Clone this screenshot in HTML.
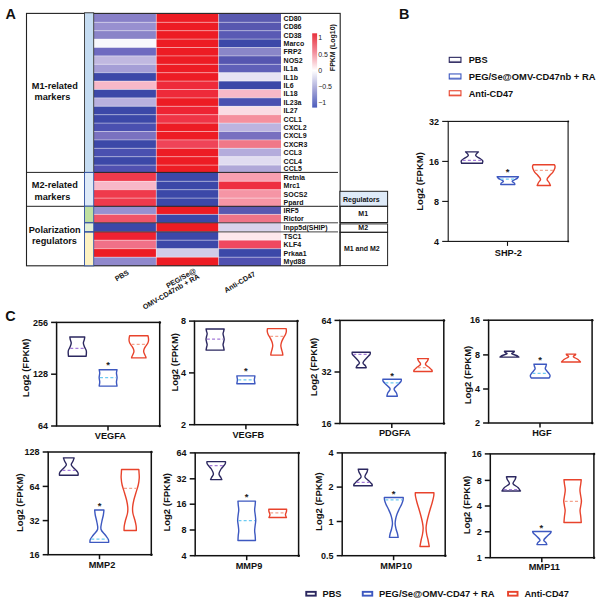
<!DOCTYPE html>
<html><head><meta charset="utf-8"><title>Figure</title>
<style>
html,body{margin:0;padding:0;background:#fff;}
body{width:608px;height:604px;overflow:hidden;}
svg{display:block;font-family:'Liberation Sans', Arial, sans-serif;}
</style></head>
<body>
<svg width="608" height="604" viewBox="0 0 608 604">
<rect x="0" y="0" width="608" height="604" fill="#ffffff"/>
<rect x="94" y="13.9" width="62.3" height="8.42" fill="#8880c8" stroke="none" stroke-width="1"/>
<rect x="156.3" y="13.9" width="62.3" height="8.42" fill="#ed1c24" stroke="none" stroke-width="1"/>
<rect x="218.6" y="13.9" width="62.4" height="8.42" fill="#5a5ab0" stroke="none" stroke-width="1"/>
<rect x="94" y="22.3" width="62.3" height="8.42" fill="#9890d0" stroke="none" stroke-width="1"/>
<rect x="156.3" y="22.3" width="62.3" height="8.42" fill="#ed1c24" stroke="none" stroke-width="1"/>
<rect x="218.6" y="22.3" width="62.4" height="8.42" fill="#5858b0" stroke="none" stroke-width="1"/>
<rect x="94" y="30.7" width="62.3" height="8.42" fill="#8a84c8" stroke="none" stroke-width="1"/>
<rect x="156.3" y="30.7" width="62.3" height="8.42" fill="#ed1c24" stroke="none" stroke-width="1"/>
<rect x="218.6" y="30.7" width="62.4" height="8.42" fill="#5a5ab4" stroke="none" stroke-width="1"/>
<rect x="94" y="39.1" width="62.3" height="8.42" fill="#f8f8fc" stroke="none" stroke-width="1"/>
<rect x="156.3" y="39.1" width="62.3" height="8.42" fill="#ed1c24" stroke="none" stroke-width="1"/>
<rect x="218.6" y="39.1" width="62.4" height="8.42" fill="#3c48a8" stroke="none" stroke-width="1"/>
<rect x="94" y="47.5" width="62.3" height="8.42" fill="#6e6ac0" stroke="none" stroke-width="1"/>
<rect x="156.3" y="47.5" width="62.3" height="8.42" fill="#ed1c24" stroke="none" stroke-width="1"/>
<rect x="218.6" y="47.5" width="62.4" height="8.42" fill="#8a86c8" stroke="none" stroke-width="1"/>
<rect x="94" y="55.9" width="62.3" height="8.42" fill="#c0b8e0" stroke="none" stroke-width="1"/>
<rect x="156.3" y="55.9" width="62.3" height="8.42" fill="#ed1c24" stroke="none" stroke-width="1"/>
<rect x="218.6" y="55.9" width="62.4" height="8.42" fill="#5656b0" stroke="none" stroke-width="1"/>
<rect x="94" y="64.3" width="62.3" height="8.42" fill="#a59ed6" stroke="none" stroke-width="1"/>
<rect x="156.3" y="64.3" width="62.3" height="8.42" fill="#ed1c24" stroke="none" stroke-width="1"/>
<rect x="218.6" y="64.3" width="62.4" height="8.42" fill="#6060b8" stroke="none" stroke-width="1"/>
<rect x="94" y="72.7" width="62.3" height="8.42" fill="#3c48a8" stroke="none" stroke-width="1"/>
<rect x="156.3" y="72.7" width="62.3" height="8.42" fill="#ed1c24" stroke="none" stroke-width="1"/>
<rect x="218.6" y="72.7" width="62.4" height="8.42" fill="#e8e4f4" stroke="none" stroke-width="1"/>
<rect x="94" y="81.1" width="62.3" height="8.42" fill="#f8b8c8" stroke="none" stroke-width="1"/>
<rect x="156.3" y="81.1" width="62.3" height="8.42" fill="#ee2a3a" stroke="none" stroke-width="1"/>
<rect x="218.6" y="81.1" width="62.4" height="8.42" fill="#3c48a8" stroke="none" stroke-width="1"/>
<rect x="94" y="89.5" width="62.3" height="8.42" fill="#3c48a8" stroke="none" stroke-width="1"/>
<rect x="156.3" y="89.5" width="62.3" height="8.42" fill="#ee2a3a" stroke="none" stroke-width="1"/>
<rect x="218.6" y="89.5" width="62.4" height="8.42" fill="#f8b8c8" stroke="none" stroke-width="1"/>
<rect x="94" y="97.9" width="62.3" height="8.42" fill="#b8b0de" stroke="none" stroke-width="1"/>
<rect x="156.3" y="97.9" width="62.3" height="8.42" fill="#ed1c24" stroke="none" stroke-width="1"/>
<rect x="218.6" y="97.9" width="62.4" height="8.42" fill="#4a50b0" stroke="none" stroke-width="1"/>
<rect x="94" y="106.3" width="62.3" height="8.42" fill="#3c48a8" stroke="none" stroke-width="1"/>
<rect x="156.3" y="106.3" width="62.3" height="8.42" fill="#ee2434" stroke="none" stroke-width="1"/>
<rect x="218.6" y="106.3" width="62.4" height="8.42" fill="#fadce4" stroke="none" stroke-width="1"/>
<rect x="94" y="114.7" width="62.3" height="8.42" fill="#3c48a8" stroke="none" stroke-width="1"/>
<rect x="156.3" y="114.7" width="62.3" height="8.42" fill="#ef3446" stroke="none" stroke-width="1"/>
<rect x="218.6" y="114.7" width="62.4" height="8.42" fill="#f5909e" stroke="none" stroke-width="1"/>
<rect x="94" y="123.1" width="62.3" height="8.42" fill="#4a50b0" stroke="none" stroke-width="1"/>
<rect x="156.3" y="123.1" width="62.3" height="8.42" fill="#ed1c24" stroke="none" stroke-width="1"/>
<rect x="218.6" y="123.1" width="62.4" height="8.42" fill="#bcb4e0" stroke="none" stroke-width="1"/>
<rect x="94" y="131.5" width="62.3" height="8.42" fill="#7a72c0" stroke="none" stroke-width="1"/>
<rect x="156.3" y="131.5" width="62.3" height="8.42" fill="#ed1c24" stroke="none" stroke-width="1"/>
<rect x="218.6" y="131.5" width="62.4" height="8.42" fill="#7870c0" stroke="none" stroke-width="1"/>
<rect x="94" y="139.9" width="62.3" height="8.42" fill="#3c48a8" stroke="none" stroke-width="1"/>
<rect x="156.3" y="139.9" width="62.3" height="8.42" fill="#ef4458" stroke="none" stroke-width="1"/>
<rect x="218.6" y="139.9" width="62.4" height="8.42" fill="#f07888" stroke="none" stroke-width="1"/>
<rect x="94" y="148.3" width="62.3" height="8.42" fill="#4a50b0" stroke="none" stroke-width="1"/>
<rect x="156.3" y="148.3" width="62.3" height="8.42" fill="#ed1c24" stroke="none" stroke-width="1"/>
<rect x="218.6" y="148.3" width="62.4" height="8.42" fill="#b4acdc" stroke="none" stroke-width="1"/>
<rect x="94" y="156.7" width="62.3" height="8.42" fill="#3c48a8" stroke="none" stroke-width="1"/>
<rect x="156.3" y="156.7" width="62.3" height="8.42" fill="#ed1c24" stroke="none" stroke-width="1"/>
<rect x="218.6" y="156.7" width="62.4" height="8.42" fill="#e0dcf0" stroke="none" stroke-width="1"/>
<rect x="94" y="165.1" width="62.3" height="7.32" fill="#5050b0" stroke="none" stroke-width="1"/>
<rect x="156.3" y="165.1" width="62.3" height="7.32" fill="#ed1c24" stroke="none" stroke-width="1"/>
<rect x="218.6" y="165.1" width="62.4" height="7.32" fill="#b0a8d8" stroke="none" stroke-width="1"/>
<rect x="94" y="172.4" width="62.3" height="8.92" fill="#ef3a4c" stroke="none" stroke-width="1"/>
<rect x="156.3" y="172.4" width="62.3" height="8.92" fill="#3c48a8" stroke="none" stroke-width="1"/>
<rect x="218.6" y="172.4" width="62.4" height="8.92" fill="#f8a0b0" stroke="none" stroke-width="1"/>
<rect x="94" y="181.3" width="62.3" height="8.42" fill="#f8b8c8" stroke="none" stroke-width="1"/>
<rect x="156.3" y="181.3" width="62.3" height="8.42" fill="#3c48a8" stroke="none" stroke-width="1"/>
<rect x="218.6" y="181.3" width="62.4" height="8.42" fill="#ee3040" stroke="none" stroke-width="1"/>
<rect x="94" y="189.7" width="62.3" height="8.42" fill="#ef3a4c" stroke="none" stroke-width="1"/>
<rect x="156.3" y="189.7" width="62.3" height="8.42" fill="#3c48a8" stroke="none" stroke-width="1"/>
<rect x="218.6" y="189.7" width="62.4" height="8.42" fill="#f595a5" stroke="none" stroke-width="1"/>
<rect x="94" y="198.1" width="62.3" height="8.12" fill="#ef3a4c" stroke="none" stroke-width="1"/>
<rect x="156.3" y="198.1" width="62.3" height="8.12" fill="#3c48a8" stroke="none" stroke-width="1"/>
<rect x="218.6" y="198.1" width="62.4" height="8.12" fill="#f595a5" stroke="none" stroke-width="1"/>
<rect x="94" y="206.2" width="62.3" height="8.22" fill="#9890d0" stroke="none" stroke-width="1"/>
<rect x="156.3" y="206.2" width="62.3" height="8.22" fill="#ed1c24" stroke="none" stroke-width="1"/>
<rect x="218.6" y="206.2" width="62.4" height="8.22" fill="#5a58b0" stroke="none" stroke-width="1"/>
<rect x="94" y="214.4" width="62.3" height="8.52" fill="#f05468" stroke="none" stroke-width="1"/>
<rect x="156.3" y="214.4" width="62.3" height="8.52" fill="#3c48a8" stroke="none" stroke-width="1"/>
<rect x="218.6" y="214.4" width="62.4" height="8.52" fill="#f07488" stroke="none" stroke-width="1"/>
<rect x="94" y="222.9" width="62.3" height="8.82" fill="#3c48a8" stroke="none" stroke-width="1"/>
<rect x="156.3" y="222.9" width="62.3" height="8.82" fill="#ed1c24" stroke="none" stroke-width="1"/>
<rect x="218.6" y="222.9" width="62.4" height="8.82" fill="#d8d4ec" stroke="none" stroke-width="1"/>
<rect x="94" y="231.7" width="62.3" height="8.52" fill="#ee2232" stroke="none" stroke-width="1"/>
<rect x="156.3" y="231.7" width="62.3" height="8.52" fill="#3c48a8" stroke="none" stroke-width="1"/>
<rect x="218.6" y="231.7" width="62.4" height="8.52" fill="#fde8ec" stroke="none" stroke-width="1"/>
<rect x="94" y="240.2" width="62.3" height="8.52" fill="#f07088" stroke="none" stroke-width="1"/>
<rect x="156.3" y="240.2" width="62.3" height="8.52" fill="#3c48a8" stroke="none" stroke-width="1"/>
<rect x="218.6" y="240.2" width="62.4" height="8.52" fill="#f04860" stroke="none" stroke-width="1"/>
<rect x="94" y="248.7" width="62.3" height="8.52" fill="#ed1c24" stroke="none" stroke-width="1"/>
<rect x="156.3" y="248.7" width="62.3" height="8.52" fill="#d0cce8" stroke="none" stroke-width="1"/>
<rect x="218.6" y="248.7" width="62.4" height="8.52" fill="#3c48a8" stroke="none" stroke-width="1"/>
<rect x="94" y="257.2" width="62.3" height="8.62" fill="#9088cc" stroke="none" stroke-width="1"/>
<rect x="156.3" y="257.2" width="62.3" height="8.62" fill="#ed1c24" stroke="none" stroke-width="1"/>
<rect x="218.6" y="257.2" width="62.4" height="8.62" fill="#5050b0" stroke="none" stroke-width="1"/>
<line x1="94" y1="22.3" x2="281" y2="22.3" stroke="#ffffff" stroke-width="0.7" stroke-opacity="0.6"/>
<line x1="94" y1="30.7" x2="281" y2="30.7" stroke="#ffffff" stroke-width="0.7" stroke-opacity="0.6"/>
<line x1="94" y1="39.1" x2="281" y2="39.1" stroke="#ffffff" stroke-width="0.7" stroke-opacity="0.6"/>
<line x1="94" y1="47.5" x2="281" y2="47.5" stroke="#ffffff" stroke-width="0.7" stroke-opacity="0.6"/>
<line x1="94" y1="55.9" x2="281" y2="55.9" stroke="#ffffff" stroke-width="0.7" stroke-opacity="0.6"/>
<line x1="94" y1="64.3" x2="281" y2="64.3" stroke="#ffffff" stroke-width="0.7" stroke-opacity="0.6"/>
<line x1="94" y1="72.7" x2="281" y2="72.7" stroke="#ffffff" stroke-width="0.7" stroke-opacity="0.6"/>
<line x1="94" y1="81.1" x2="281" y2="81.1" stroke="#ffffff" stroke-width="0.7" stroke-opacity="0.6"/>
<line x1="94" y1="89.5" x2="281" y2="89.5" stroke="#ffffff" stroke-width="0.7" stroke-opacity="0.6"/>
<line x1="94" y1="97.9" x2="281" y2="97.9" stroke="#ffffff" stroke-width="0.7" stroke-opacity="0.6"/>
<line x1="94" y1="106.3" x2="281" y2="106.3" stroke="#ffffff" stroke-width="0.7" stroke-opacity="0.6"/>
<line x1="94" y1="114.7" x2="281" y2="114.7" stroke="#ffffff" stroke-width="0.7" stroke-opacity="0.6"/>
<line x1="94" y1="123.1" x2="281" y2="123.1" stroke="#ffffff" stroke-width="0.7" stroke-opacity="0.6"/>
<line x1="94" y1="131.5" x2="281" y2="131.5" stroke="#ffffff" stroke-width="0.7" stroke-opacity="0.6"/>
<line x1="94" y1="139.9" x2="281" y2="139.9" stroke="#ffffff" stroke-width="0.7" stroke-opacity="0.6"/>
<line x1="94" y1="148.3" x2="281" y2="148.3" stroke="#ffffff" stroke-width="0.7" stroke-opacity="0.6"/>
<line x1="94" y1="156.7" x2="281" y2="156.7" stroke="#ffffff" stroke-width="0.7" stroke-opacity="0.6"/>
<line x1="94" y1="165.1" x2="281" y2="165.1" stroke="#ffffff" stroke-width="0.7" stroke-opacity="0.6"/>
<line x1="94" y1="181.3" x2="281" y2="181.3" stroke="#ffffff" stroke-width="0.7" stroke-opacity="0.6"/>
<line x1="94" y1="189.7" x2="281" y2="189.7" stroke="#ffffff" stroke-width="0.7" stroke-opacity="0.6"/>
<line x1="94" y1="198.1" x2="281" y2="198.1" stroke="#ffffff" stroke-width="0.7" stroke-opacity="0.6"/>
<line x1="94" y1="214.4" x2="281" y2="214.4" stroke="#ffffff" stroke-width="0.7" stroke-opacity="0.6"/>
<line x1="94" y1="240.2" x2="281" y2="240.2" stroke="#ffffff" stroke-width="0.7" stroke-opacity="0.6"/>
<line x1="94" y1="248.7" x2="281" y2="248.7" stroke="#ffffff" stroke-width="0.7" stroke-opacity="0.6"/>
<line x1="94" y1="257.2" x2="281" y2="257.2" stroke="#ffffff" stroke-width="0.7" stroke-opacity="0.6"/>
<line x1="156.3" y1="13.9" x2="156.3" y2="265.8" stroke="#ffffff" stroke-width="0.7" stroke-opacity="0.6"/>
<line x1="218.6" y1="13.9" x2="218.6" y2="265.8" stroke="#ffffff" stroke-width="0.7" stroke-opacity="0.6"/>
<rect x="26.5" y="13.4" width="313.7" height="252.4" fill="none" stroke="#222" stroke-width="1.1"/>
<line x1="26.5" y1="172.4" x2="338" y2="172.4" stroke="#222" stroke-width="1"/>
<line x1="26.5" y1="206.3" x2="338" y2="206.3" stroke="#222" stroke-width="1"/>
<line x1="94" y1="222.8" x2="338" y2="222.8" stroke="#444" stroke-width="1"/>
<line x1="94" y1="231.9" x2="338" y2="231.9" stroke="#444" stroke-width="1"/>
<rect x="84.5" y="12.8" width="9.2" height="159.6" fill="#c5dcf2" stroke="#333333" stroke-width="0.9"/>
<rect x="84.5" y="172.4" width="9.2" height="33.8" fill="#deeaf8" stroke="#2f4f9f" stroke-width="0.9"/>
<rect x="84.5" y="206.2" width="9.2" height="16.2" fill="#bfe0a0" stroke="#2f4f9f" stroke-width="0.9"/>
<rect x="84.5" y="222.9" width="9.2" height="8.7" fill="#e2f0d6" stroke="#2f4f9f" stroke-width="0.9"/>
<rect x="84.5" y="232.2" width="9.2" height="33.6" fill="#fdf2c2" stroke="#2f4f9f" stroke-width="0.9"/>
<text x="54.8" y="88.7" font-size="9.2" font-weight="bold" text-anchor="middle" fill="#111">M1-related</text>
<text x="52.4" y="99.5" font-size="9.2" font-weight="bold" text-anchor="middle" fill="#111">markers</text>
<text x="54.8" y="187.9" font-size="9.2" font-weight="bold" text-anchor="middle" fill="#111">M2-related</text>
<text x="52.4" y="199.5" font-size="9.2" font-weight="bold" text-anchor="middle" fill="#111">markers</text>
<text x="54.7" y="232.9" font-size="9.2" font-weight="bold" text-anchor="middle" fill="#111">Polarization</text>
<text x="54.5" y="243.7" font-size="9.2" font-weight="bold" text-anchor="middle" fill="#111">regulators</text>
<text x="283.6" y="20.8" font-size="7" font-weight="bold" text-anchor="start" fill="#111">CD80</text>
<text x="283.6" y="29.2" font-size="7" font-weight="bold" text-anchor="start" fill="#111">CD86</text>
<text x="283.6" y="37.6" font-size="7" font-weight="bold" text-anchor="start" fill="#111">CD38</text>
<text x="283.6" y="46" font-size="7" font-weight="bold" text-anchor="start" fill="#111">Marco</text>
<text x="283.6" y="54.4" font-size="7" font-weight="bold" text-anchor="start" fill="#111">FRP2</text>
<text x="283.6" y="62.8" font-size="7" font-weight="bold" text-anchor="start" fill="#111">NOS2</text>
<text x="283.6" y="71.2" font-size="7" font-weight="bold" text-anchor="start" fill="#111">IL1a</text>
<text x="283.6" y="79.6" font-size="7" font-weight="bold" text-anchor="start" fill="#111">IL1b</text>
<text x="283.6" y="88" font-size="7" font-weight="bold" text-anchor="start" fill="#111">IL6</text>
<text x="283.6" y="96.4" font-size="7" font-weight="bold" text-anchor="start" fill="#111">IL18</text>
<text x="283.6" y="104.8" font-size="7" font-weight="bold" text-anchor="start" fill="#111">IL23a</text>
<text x="283.6" y="113.2" font-size="7" font-weight="bold" text-anchor="start" fill="#111">IL27</text>
<text x="283.6" y="121.6" font-size="7" font-weight="bold" text-anchor="start" fill="#111">CCL1</text>
<text x="283.6" y="130" font-size="7" font-weight="bold" text-anchor="start" fill="#111">CXCL2</text>
<text x="283.6" y="138.4" font-size="7" font-weight="bold" text-anchor="start" fill="#111">CXCL9</text>
<text x="283.6" y="146.8" font-size="7" font-weight="bold" text-anchor="start" fill="#111">CXCR3</text>
<text x="283.6" y="155.2" font-size="7" font-weight="bold" text-anchor="start" fill="#111">CCL3</text>
<text x="283.6" y="163.6" font-size="7" font-weight="bold" text-anchor="start" fill="#111">CCL4</text>
<text x="283.6" y="171.45" font-size="7" font-weight="bold" text-anchor="start" fill="#111">CCL5</text>
<text x="283.6" y="179.55" font-size="7" font-weight="bold" text-anchor="start" fill="#111">Retnla</text>
<text x="283.6" y="188.2" font-size="7" font-weight="bold" text-anchor="start" fill="#111">Mrc1</text>
<text x="283.6" y="196.6" font-size="7" font-weight="bold" text-anchor="start" fill="#111">SOCS2</text>
<text x="283.6" y="204.85" font-size="7" font-weight="bold" text-anchor="start" fill="#111">Ppard</text>
<text x="283.6" y="213" font-size="7" font-weight="bold" text-anchor="start" fill="#111">IRF5</text>
<text x="283.6" y="221.35" font-size="7" font-weight="bold" text-anchor="start" fill="#111">Rictor</text>
<text x="283.6" y="230" font-size="7" font-weight="bold" text-anchor="start" fill="#111">Inpp5d(SHIP)</text>
<text x="283.6" y="238.65" font-size="7" font-weight="bold" text-anchor="start" fill="#111">TSC1</text>
<text x="283.6" y="247.15" font-size="7" font-weight="bold" text-anchor="start" fill="#111">KLF4</text>
<text x="283.6" y="255.65" font-size="7" font-weight="bold" text-anchor="start" fill="#111">Prkaa1</text>
<text x="283.6" y="264.2" font-size="7" font-weight="bold" text-anchor="start" fill="#111">Myd88</text>
<defs><linearGradient id="cb" x1="0" y1="0" x2="0" y2="1"><stop offset="0" stop-color="#e8303c"/><stop offset="0.25" stop-color="#f28c9a"/><stop offset="0.5" stop-color="#ffffff"/><stop offset="0.75" stop-color="#a8a8d8"/><stop offset="1" stop-color="#4c5cbc"/></linearGradient></defs>
<rect x="312.2" y="33.3" width="4.9" height="74.3" fill="url(#cb)" stroke="none" stroke-width="1"/>
<text x="318.2" y="40.3" font-size="7" font-weight="normal" text-anchor="start" fill="#1a1a1a">1</text>
<text x="318.2" y="56.5" font-size="7" font-weight="normal" text-anchor="start" fill="#1a1a1a">0.5</text>
<text x="318.2" y="72.7" font-size="7" font-weight="normal" text-anchor="start" fill="#1a1a1a">0</text>
<text x="318.2" y="88.8" font-size="7" font-weight="normal" text-anchor="start" fill="#1a1a1a">−0.5</text>
<text x="318.2" y="104.9" font-size="7" font-weight="normal" text-anchor="start" fill="#1a1a1a">−1</text>
<text x="335.3" y="47.6" font-size="7" font-weight="bold" text-anchor="middle" fill="#111" transform="rotate(-90 335.3 47.6)">FPKM (Log10)</text>
<text x="129.5" y="274" font-size="7.2" font-weight="bold" text-anchor="end" fill="#111" transform="rotate(-30 129.5 274)">PBS</text>
<text x="196.5" y="272" font-size="7.2" font-weight="bold" text-anchor="end" fill="#111" transform="rotate(-30 196.5 272)">PEG/Se@</text>
<text x="200" y="277.8" font-size="7.2" font-weight="bold" text-anchor="end" fill="#111" transform="rotate(-30 200 277.8)">OMV-CD47nb + RA</text>
<text x="256" y="275.5" font-size="7.2" font-weight="bold" text-anchor="end" fill="#111" transform="rotate(-30 256 275.5)">Anti-CD47</text>
<rect x="339.9" y="191.3" width="47.7" height="15" fill="#deeaf8" stroke="#222" stroke-width="1"/>
<rect x="339.9" y="206.3" width="47.7" height="16.2" fill="none" stroke="#222" stroke-width="1"/>
<rect x="339.9" y="223.9" width="47.7" height="8.4" fill="none" stroke="#222" stroke-width="1"/>
<rect x="339.9" y="232.3" width="47.7" height="33.3" fill="none" stroke="#222" stroke-width="1"/>
<text x="361.3" y="201.6" font-size="7" font-weight="bold" text-anchor="middle" fill="#111">Regulators</text>
<text x="363.2" y="216" font-size="7" font-weight="bold" text-anchor="middle" fill="#111">M1</text>
<text x="363.2" y="229.6" font-size="7" font-weight="bold" text-anchor="middle" fill="#111">M2</text>
<text x="361.8" y="250.8" font-size="7" font-weight="bold" text-anchor="middle" fill="#111">M1 and M2</text>
<text x="5.4" y="18.6" font-size="14.4" font-weight="bold" text-anchor="start" fill="#111">A</text>
<text x="399" y="18.5" font-size="14.4" font-weight="bold" text-anchor="start" fill="#111">B</text>
<text x="5.2" y="321.2" font-size="14.4" font-weight="bold" text-anchor="start" fill="#111">C</text>
<rect x="448.2" y="121.4" width="119.9" height="120" fill="none" stroke="#111" stroke-width="1.1"/>
<circle cx="568.25" cy="121.4" r="0.94" fill="#111"/>
<circle cx="568.25" cy="241.4" r="0.94" fill="#111"/>
<line x1="442.2" y1="121.4" x2="448.2" y2="121.4" stroke="#111" stroke-width="1.1"/>
<text x="439" y="124.65" font-size="9" font-weight="bold" text-anchor="end" fill="#111">32</text>
<line x1="442.2" y1="161.4" x2="448.2" y2="161.4" stroke="#111" stroke-width="1.1"/>
<text x="439" y="164.65" font-size="9" font-weight="bold" text-anchor="end" fill="#111">16</text>
<line x1="442.2" y1="201.4" x2="448.2" y2="201.4" stroke="#111" stroke-width="1.1"/>
<text x="439" y="204.65" font-size="9" font-weight="bold" text-anchor="end" fill="#111">8</text>
<line x1="442.2" y1="241.4" x2="448.2" y2="241.4" stroke="#111" stroke-width="1.1"/>
<text x="439" y="244.65" font-size="9" font-weight="bold" text-anchor="end" fill="#111">4</text>
<line x1="507.5" y1="241.4" x2="507.5" y2="245.9" stroke="#111" stroke-width="1.1"/>
<text x="508.4" y="256.4" font-size="9.2" font-weight="bold" text-anchor="middle" fill="#111">SHP-2</text>
<text x="422.7" y="181.4" font-size="9.5" font-weight="bold" text-anchor="middle" fill="#111" transform="rotate(-90 422.7 181.4)">Log2 (FPKM)</text>
<path d="M465.55 151.9 L478.45 151.9 C477.98 152.48 475.4 154.3 475.65 155.4 C475.9 156.5 478.77 157.6 479.95 158.5 C481.13 159.4 482.35 160 482.75 160.8 C483.15 161.6 482.42 162.88 482.35 163.3 L461.65 163.3 C461.58 162.88 460.85 161.6 461.25 160.8 C461.65 160 462.87 159.4 464.05 158.5 C465.23 157.6 468.1 156.5 468.35 155.4 C468.6 154.3 466.02 152.48 465.55 151.9 Z" fill="none" stroke="#2b275f" stroke-width="1.4" stroke-linejoin="round"/>
<line x1="462.66" y1="160.3" x2="481.34" y2="160.3" stroke="#a47ad8" stroke-width="1.25" stroke-dasharray="3 2.2"/>
<path d="M497.15 176.8 L518.45 176.8 C518.25 177.05 518.28 177.6 517.25 178.3 C516.22 179 512.72 180.18 512.25 181 C511.78 181.82 514.02 182.62 514.45 183.2 C514.88 183.78 514.78 184.28 514.85 184.5 L500.75 184.5 C500.82 184.28 500.72 183.78 501.15 183.2 C501.58 182.62 503.82 181.82 503.35 181 C502.88 180.18 499.38 179 498.35 178.3 C497.32 177.6 497.35 177.05 497.15 176.8 Z" fill="none" stroke="#3d58c0" stroke-width="1.4" stroke-linejoin="round"/>
<line x1="500.63" y1="179.1" x2="514.97" y2="179.1" stroke="#6ccbf2" stroke-width="1.25" stroke-dasharray="3 2.2"/>
<text x="507.5" y="175.3" font-size="9.5" font-weight="bold" text-anchor="middle" fill="#222">*</text>
<path d="M533.15 164.8 L554.45 164.8 C554.55 165.05 555 165.68 555.05 166.3 C555.1 166.92 555.13 167.5 554.75 168.5 C554.37 169.5 553.58 171.13 552.75 172.3 C551.92 173.47 550.7 174.35 549.75 175.5 C548.8 176.65 547.17 178.03 547.05 179.2 C546.93 180.37 548.48 181.45 549.05 182.5 C549.62 183.55 550.22 185 550.45 185.5 L537.15 185.5 C537.38 185 537.98 183.55 538.55 182.5 C539.12 181.45 540.67 180.37 540.55 179.2 C540.43 178.03 538.8 176.65 537.85 175.5 C536.9 174.35 535.68 173.47 534.85 172.3 C534.02 171.13 533.23 169.5 532.85 168.5 C532.47 167.5 532.5 166.92 532.55 166.3 C532.6 165.68 533.05 165.05 533.15 164.8 Z" fill="none" stroke="#e8432c" stroke-width="1.4" stroke-linejoin="round"/>
<line x1="534.65" y1="170.4" x2="552.95" y2="170.4" stroke="#f4a48e" stroke-width="1.25" stroke-dasharray="3 2.2"/>
<rect x="449.25" y="57.35" width="11.7" height="5" fill="none" stroke="#2b275f" stroke-width="1.1"/>
<line x1="449.2" y1="61.7" x2="461" y2="61.7" stroke="#2b275f" stroke-width="1.6" stroke-opacity="0.55"/>
<text x="468.7" y="63.2" font-size="9.2" font-weight="bold" text-anchor="start" fill="#111">PBS</text>
<rect x="449.25" y="73.95" width="11.7" height="5" fill="none" stroke="#3d58c0" stroke-width="1.1"/>
<line x1="449.2" y1="78.3" x2="461" y2="78.3" stroke="#3d58c0" stroke-width="1.6" stroke-opacity="0.55"/>
<text x="468.7" y="79.8" font-size="9.2" font-weight="bold" text-anchor="start" fill="#111" textLength="126.8" lengthAdjust="spacingAndGlyphs">PEG/Se@OMV-CD47nb + RA</text>
<rect x="449.25" y="90.75" width="11.7" height="5" fill="none" stroke="#e8432c" stroke-width="1.1"/>
<line x1="449.2" y1="95.1" x2="461" y2="95.1" stroke="#e8432c" stroke-width="1.6" stroke-opacity="0.55"/>
<text x="468.7" y="96.6" font-size="9.2" font-weight="bold" text-anchor="start" fill="#111">Anti-CD47</text>
<rect x="56.6" y="322.4" width="103.1" height="103.6" fill="none" stroke="#111" stroke-width="1.5"/>
<circle cx="159.85" cy="322.4" r="1.27" fill="#111"/>
<circle cx="159.85" cy="426" r="1.27" fill="#111"/>
<line x1="51.1" y1="322.4" x2="56.6" y2="322.4" stroke="#111" stroke-width="1.5"/>
<text x="48" y="325.65" font-size="9" font-weight="bold" text-anchor="end" fill="#111">256</text>
<line x1="51.1" y1="374.2" x2="56.6" y2="374.2" stroke="#111" stroke-width="1.5"/>
<text x="48" y="377.45" font-size="9" font-weight="bold" text-anchor="end" fill="#111">128</text>
<line x1="51.1" y1="426" x2="56.6" y2="426" stroke="#111" stroke-width="1.5"/>
<text x="48" y="429.25" font-size="9" font-weight="bold" text-anchor="end" fill="#111">64</text>
<line x1="108" y1="426" x2="108" y2="430.5" stroke="#111" stroke-width="1.5"/>
<text x="110.4" y="438.5" font-size="9.2" font-weight="bold" text-anchor="middle" fill="#111">VEGFA</text>
<text x="29.1" y="367.85" font-size="9.5" font-weight="bold" text-anchor="middle" fill="#111" transform="rotate(-90 29.1 367.85)">Log2 (FPKM)</text>
<path d="M69.85 337 L84.75 337 C84.68 337.42 84.58 338.5 84.35 339.5 C84.12 340.5 83.32 341.75 83.35 343 C83.38 344.25 84.05 345.67 84.55 347 C85.05 348.33 86.08 349.45 86.35 351 C86.62 352.55 86.18 355.42 86.15 356.3 L68.45 356.3 C68.42 355.42 67.98 352.55 68.25 351 C68.52 349.45 69.55 348.33 70.05 347 C70.55 345.67 71.22 344.25 71.25 343 C71.28 341.75 70.48 340.5 70.25 339.5 C70.02 338.5 69.92 337.42 69.85 337 Z" fill="none" stroke="#2b275f" stroke-width="1.4" stroke-linejoin="round"/>
<line x1="70.22" y1="348.4" x2="84.38" y2="348.4" stroke="#a47ad8" stroke-width="1.25" stroke-dasharray="3 2.2"/>
<path d="M99.15 369.7 L117.05 369.7 C116.95 370.25 116.45 371.7 116.45 373 C116.45 374.3 117.05 376 117.05 377.5 C117.05 379 116.45 380.57 116.45 382 C116.45 383.43 116.95 385.42 117.05 386.1 L99.15 386.1 C99.25 385.42 99.75 383.43 99.75 382 C99.75 380.57 99.15 379 99.15 377.5 C99.15 376 99.75 374.3 99.75 373 C99.75 371.7 99.25 370.25 99.15 369.7 Z" fill="none" stroke="#3d58c0" stroke-width="1.4" stroke-linejoin="round"/>
<line x1="99.95" y1="377.5" x2="116.25" y2="377.5" stroke="#6ccbf2" stroke-width="1.25" stroke-dasharray="3 2.2"/>
<text x="108.2" y="367.7" font-size="9.5" font-weight="bold" text-anchor="middle" fill="#222">*</text>
<path d="M129.65 335.7 L147.95 335.7 C148.02 336 148.25 336.75 148.35 337.5 C148.45 338.25 148.63 339.28 148.55 340.2 C148.47 341.12 148.3 342.03 147.85 343 C147.4 343.97 146.47 345 145.85 346 C145.23 347 144.52 348.08 144.15 349 C143.78 349.92 143.6 350.67 143.65 351.5 C143.7 352.33 144.12 353.17 144.45 354 C144.78 354.83 145.38 355.85 145.65 356.5 C145.92 357.15 145.98 357.67 146.05 357.9 L131.55 357.9 C131.62 357.67 131.68 357.15 131.95 356.5 C132.22 355.85 132.82 354.83 133.15 354 C133.48 353.17 133.9 352.33 133.95 351.5 C134 350.67 133.82 349.92 133.45 349 C133.08 348.08 132.37 347 131.75 346 C131.13 345 130.2 343.97 129.75 343 C129.3 342.03 129.13 341.12 129.05 340.2 C128.97 339.28 129.15 338.25 129.25 337.5 C129.35 336.75 129.58 336 129.65 335.7 Z" fill="none" stroke="#e8432c" stroke-width="1.4" stroke-linejoin="round"/>
<line x1="131.48" y1="344.4" x2="146.12" y2="344.4" stroke="#f4a48e" stroke-width="1.25" stroke-dasharray="3 2.2"/>
<rect x="194.5" y="321.1" width="102.9" height="103.6" fill="none" stroke="#111" stroke-width="1.5"/>
<circle cx="297.55" cy="321.1" r="1.27" fill="#111"/>
<circle cx="297.55" cy="424.7" r="1.27" fill="#111"/>
<line x1="189" y1="321.1" x2="194.5" y2="321.1" stroke="#111" stroke-width="1.5"/>
<text x="185.9" y="324.35" font-size="9" font-weight="bold" text-anchor="end" fill="#111">8</text>
<line x1="189" y1="372.9" x2="194.5" y2="372.9" stroke="#111" stroke-width="1.5"/>
<text x="185.9" y="376.15" font-size="9" font-weight="bold" text-anchor="end" fill="#111">4</text>
<line x1="189" y1="424.7" x2="194.5" y2="424.7" stroke="#111" stroke-width="1.5"/>
<text x="185.9" y="427.95" font-size="9" font-weight="bold" text-anchor="end" fill="#111">2</text>
<line x1="245.9" y1="424.7" x2="245.9" y2="429.2" stroke="#111" stroke-width="1.5"/>
<text x="248.3" y="437.7" font-size="9.2" font-weight="bold" text-anchor="middle" fill="#111">VEGFB</text>
<text x="177.75" y="362.3" font-size="9.5" font-weight="bold" text-anchor="middle" fill="#111" transform="rotate(-90 177.75 362.3)">Log2 (FPKM)</text>
<path d="M206.05 329 L224.15 329 C224.07 329.38 223.83 330.52 223.65 331.3 C223.47 332.08 223.05 332.83 223.05 333.7 C223.05 334.57 223.47 335.58 223.65 336.5 C223.83 337.42 224.15 338.28 224.15 339.2 C224.15 340.12 223.83 341.08 223.65 342 C223.47 342.92 223.05 343.78 223.05 344.7 C223.05 345.62 223.47 346.6 223.65 347.5 C223.83 348.4 224.07 349.67 224.15 350.1 L206.05 350.1 C206.13 349.67 206.37 348.4 206.55 347.5 C206.73 346.6 207.15 345.62 207.15 344.7 C207.15 343.78 206.73 342.92 206.55 342 C206.37 341.08 206.05 340.12 206.05 339.2 C206.05 338.28 206.37 337.42 206.55 336.5 C206.73 335.58 207.15 334.57 207.15 333.7 C207.15 332.83 206.73 332.08 206.55 331.3 C206.37 330.52 206.13 329.38 206.05 329 Z" fill="none" stroke="#2b275f" stroke-width="1.4" stroke-linejoin="round"/>
<line x1="206.85" y1="339.2" x2="223.35" y2="339.2" stroke="#a47ad8" stroke-width="1.25" stroke-dasharray="3 2.2"/>
<path d="M236.85 375.9 L254.95 375.9 C254.9 376.22 254.75 377.15 254.65 377.8 C254.55 378.45 254.35 379.13 254.35 379.8 C254.35 380.47 254.55 381.15 254.65 381.8 C254.75 382.45 254.9 383.38 254.95 383.7 L236.85 383.7 C236.9 383.38 237.05 382.45 237.15 381.8 C237.25 381.15 237.45 380.47 237.45 379.8 C237.45 379.13 237.25 378.45 237.15 377.8 C237.05 377.15 236.9 376.22 236.85 375.9 Z" fill="none" stroke="#3d58c0" stroke-width="1.4" stroke-linejoin="round"/>
<line x1="238.25" y1="379.8" x2="253.55" y2="379.8" stroke="#6ccbf2" stroke-width="1.25" stroke-dasharray="3 2.2"/>
<text x="245.8" y="373.6" font-size="9.5" font-weight="bold" text-anchor="middle" fill="#222">*</text>
<path d="M267.45 328.6 L286.15 328.6 C286.18 329.07 286.47 330.42 286.35 331.4 C286.23 332.38 285.9 333.47 285.45 334.5 C285 335.53 284.27 336.43 283.65 337.6 C283.03 338.77 282.22 340.2 281.75 341.5 C281.28 342.8 280.9 344.15 280.85 345.4 C280.8 346.65 281.18 347.82 281.45 349 C281.72 350.18 282.22 351.48 282.45 352.5 C282.68 353.52 282.78 354.67 282.85 355.1 L270.75 355.1 C270.82 354.67 270.92 353.52 271.15 352.5 C271.38 351.48 271.88 350.18 272.15 349 C272.42 347.82 272.8 346.65 272.75 345.4 C272.7 344.15 272.32 342.8 271.85 341.5 C271.38 340.2 270.57 338.77 269.95 337.6 C269.33 336.43 268.6 335.53 268.15 334.5 C267.7 333.47 267.37 332.38 267.25 331.4 C267.13 330.42 267.42 329.07 267.45 328.6 Z" fill="none" stroke="#e8432c" stroke-width="1.4" stroke-linejoin="round"/>
<line x1="270.05" y1="336.4" x2="283.55" y2="336.4" stroke="#f4a48e" stroke-width="1.25" stroke-dasharray="3 2.2"/>
<rect x="340" y="320.4" width="103.8" height="103.1" fill="none" stroke="#111" stroke-width="1.5"/>
<circle cx="443.95" cy="320.4" r="1.27" fill="#111"/>
<circle cx="443.95" cy="423.5" r="1.27" fill="#111"/>
<line x1="334.5" y1="320.4" x2="340" y2="320.4" stroke="#111" stroke-width="1.5"/>
<text x="331.4" y="323.65" font-size="9" font-weight="bold" text-anchor="end" fill="#111">64</text>
<line x1="334.5" y1="372" x2="340" y2="372" stroke="#111" stroke-width="1.5"/>
<text x="331.4" y="375.25" font-size="9" font-weight="bold" text-anchor="end" fill="#111">32</text>
<line x1="334.5" y1="423.5" x2="340" y2="423.5" stroke="#111" stroke-width="1.5"/>
<text x="331.4" y="426.75" font-size="9" font-weight="bold" text-anchor="end" fill="#111">16</text>
<line x1="391.8" y1="423.5" x2="391.8" y2="428" stroke="#111" stroke-width="1.5"/>
<text x="394.8" y="436.3" font-size="9.2" font-weight="bold" text-anchor="middle" fill="#111">PDGFA</text>
<text x="317.3" y="367" font-size="9.5" font-weight="bold" text-anchor="middle" fill="#111" transform="rotate(-90 317.3 367)">Log2 (FPKM)</text>
<path d="M352.15 352.3 L370.25 352.3 C370.2 352.67 370.63 353.47 369.95 354.5 C369.27 355.53 367.32 357.1 366.15 358.5 C364.98 359.9 363.07 361.68 362.95 362.9 C362.83 364.12 364.9 365 365.45 365.8 C366 366.6 366.12 367.38 366.25 367.7 L356.15 367.7 C356.28 367.38 356.4 366.6 356.95 365.8 C357.5 365 359.57 364.12 359.45 362.9 C359.33 361.68 357.42 359.9 356.25 358.5 C355.08 357.1 353.13 355.53 352.45 354.5 C351.77 353.47 352.2 352.67 352.15 352.3 Z" fill="none" stroke="#2b275f" stroke-width="1.4" stroke-linejoin="round"/>
<line x1="353.24" y1="354.4" x2="369.16" y2="354.4" stroke="#a47ad8" stroke-width="1.25" stroke-dasharray="3 2.2"/>
<path d="M382.9 379.2 L401.3 379.2 C401.24 379.58 401.66 380.45 400.95 381.5 C400.24 382.55 398.2 384.25 397.05 385.5 C395.9 386.75 394.15 387.75 394.05 389 C393.95 390.25 395.9 391.78 396.45 393 C397 394.22 397.2 395.75 397.35 396.3 L386.85 396.3 C387 395.75 387.2 394.22 387.75 393 C388.3 391.78 390.25 390.25 390.15 389 C390.05 387.75 388.3 386.75 387.15 385.5 C386 384.25 383.96 382.55 383.25 381.5 C382.54 380.45 382.96 379.58 382.9 379.2 Z" fill="none" stroke="#3d58c0" stroke-width="1.4" stroke-linejoin="round"/>
<line x1="385.32" y1="382.8" x2="398.88" y2="382.8" stroke="#6ccbf2" stroke-width="1.25" stroke-dasharray="3 2.2"/>
<text x="392" y="379" font-size="9.5" font-weight="bold" text-anchor="middle" fill="#222">*</text>
<path d="M417.55 358.6 L428.45 358.6 C428.28 359 427.95 360.05 427.45 361 C426.95 361.95 425.17 363.22 425.45 364.3 C425.73 365.38 428.08 366.55 429.15 367.5 C430.22 368.45 431.34 369.33 431.85 370 C432.36 370.67 432.14 371.25 432.2 371.5 L413.8 371.5 C413.86 371.25 413.64 370.67 414.15 370 C414.66 369.33 415.78 368.45 416.85 367.5 C417.92 366.55 420.27 365.38 420.55 364.3 C420.83 363.22 419.05 361.95 418.55 361 C418.05 360.05 417.72 359 417.55 358.6 Z" fill="none" stroke="#e8432c" stroke-width="1.4" stroke-linejoin="round"/>
<line x1="417.65" y1="367.5" x2="428.35" y2="367.5" stroke="#f4a48e" stroke-width="1.25" stroke-dasharray="3 2.2"/>
<rect x="488.6" y="320.2" width="103.5" height="102.8" fill="none" stroke="#111" stroke-width="1.5"/>
<circle cx="592.25" cy="320.2" r="1.27" fill="#111"/>
<circle cx="592.25" cy="423" r="1.27" fill="#111"/>
<line x1="483.1" y1="320.2" x2="488.6" y2="320.2" stroke="#111" stroke-width="1.5"/>
<text x="480" y="323.45" font-size="9" font-weight="bold" text-anchor="end" fill="#111">16</text>
<line x1="483.1" y1="354.9" x2="488.6" y2="354.9" stroke="#111" stroke-width="1.5"/>
<text x="480" y="358.15" font-size="9" font-weight="bold" text-anchor="end" fill="#111">8</text>
<line x1="483.1" y1="389" x2="488.6" y2="389" stroke="#111" stroke-width="1.5"/>
<text x="480" y="392.25" font-size="9" font-weight="bold" text-anchor="end" fill="#111">4</text>
<line x1="483.1" y1="423" x2="488.6" y2="423" stroke="#111" stroke-width="1.5"/>
<text x="480" y="426.25" font-size="9" font-weight="bold" text-anchor="end" fill="#111">2</text>
<line x1="540" y1="423" x2="540" y2="427.5" stroke="#111" stroke-width="1.5"/>
<text x="541.9" y="435.9" font-size="9.2" font-weight="bold" text-anchor="middle" fill="#111">HGF</text>
<text x="470.9" y="375" font-size="9.5" font-weight="bold" text-anchor="middle" fill="#111" transform="rotate(-90 470.9 375)">Log2 (FPKM)</text>
<path d="M504.45 351.3 L514.35 351.3 C514.2 351.5 513.87 352.08 513.45 352.5 C513.03 352.92 511.35 353.3 511.85 353.8 C512.35 354.3 515.28 354.95 516.45 355.5 C517.62 356.05 518.45 356.83 518.85 357.1 L499.95 357.1 C500.35 356.83 501.18 356.05 502.35 355.5 C503.52 354.95 506.45 354.3 506.95 353.8 C507.45 353.3 505.77 352.92 505.35 352.5 C504.93 352.08 504.6 351.5 504.45 351.3 Z" fill="none" stroke="#2b275f" stroke-width="1.4" stroke-linejoin="round"/>
<path d="M533.95 364.2 L546.45 364.2 C546.38 364.5 546.25 365.25 546.05 366 C545.85 366.75 545.12 367.87 545.25 368.7 C545.38 369.53 546.23 370.2 546.85 371 C547.47 371.8 548.42 372.78 548.95 373.5 C549.48 374.22 549.92 374.72 550.05 375.3 C550.18 375.88 549.92 376.55 549.75 377 C549.58 377.45 549.17 377.83 549.05 378 L531.35 378 C531.23 377.83 530.82 377.45 530.65 377 C530.48 376.55 530.22 375.88 530.35 375.3 C530.48 374.72 530.92 374.22 531.45 373.5 C531.98 372.78 532.93 371.8 533.55 371 C534.17 370.2 535.02 369.53 535.15 368.7 C535.28 367.87 534.55 366.75 534.35 366 C534.15 365.25 534.02 364.5 533.95 364.2 Z" fill="none" stroke="#3d58c0" stroke-width="1.4" stroke-linejoin="round"/>
<line x1="532.42" y1="373.3" x2="547.98" y2="373.3" stroke="#6ccbf2" stroke-width="1.25" stroke-dasharray="3 2.2"/>
<text x="540" y="363.3" font-size="9.5" font-weight="bold" text-anchor="middle" fill="#222">*</text>
<path d="M566.25 354.1 L575.75 354.1 C575.62 354.3 575.33 354.85 574.95 355.3 C574.57 355.75 572.93 356.1 573.45 356.8 C573.97 357.5 576.88 358.63 578.05 359.5 C579.22 360.37 580.05 361.58 580.45 362 L561.55 362 C561.95 361.58 562.78 360.37 563.95 359.5 C565.12 358.63 568.03 357.5 568.55 356.8 C569.07 356.1 567.43 355.75 567.05 355.3 C566.67 354.85 566.38 354.3 566.25 354.1 Z" fill="none" stroke="#e8432c" stroke-width="1.4" stroke-linejoin="round"/>
<rect x="48.2" y="452" width="103.1" height="102.7" fill="none" stroke="#111" stroke-width="1.5"/>
<circle cx="151.45" cy="452" r="1.27" fill="#111"/>
<circle cx="151.45" cy="554.7" r="1.27" fill="#111"/>
<line x1="42.7" y1="452" x2="48.2" y2="452" stroke="#111" stroke-width="1.5"/>
<text x="39.6" y="455.25" font-size="9" font-weight="bold" text-anchor="end" fill="#111">128</text>
<line x1="42.7" y1="486.4" x2="48.2" y2="486.4" stroke="#111" stroke-width="1.5"/>
<text x="39.6" y="489.65" font-size="9" font-weight="bold" text-anchor="end" fill="#111">64</text>
<line x1="42.7" y1="520.6" x2="48.2" y2="520.6" stroke="#111" stroke-width="1.5"/>
<text x="39.6" y="523.85" font-size="9" font-weight="bold" text-anchor="end" fill="#111">32</text>
<line x1="42.7" y1="554.7" x2="48.2" y2="554.7" stroke="#111" stroke-width="1.5"/>
<text x="39.6" y="557.95" font-size="9" font-weight="bold" text-anchor="end" fill="#111">16</text>
<line x1="99.5" y1="554.7" x2="99.5" y2="559.2" stroke="#111" stroke-width="1.5"/>
<text x="102" y="567.9" font-size="9.2" font-weight="bold" text-anchor="middle" fill="#111">MMP2</text>
<text x="23.45" y="502.7" font-size="9.5" font-weight="bold" text-anchor="middle" fill="#111" transform="rotate(-90 23.45 502.7)">Log2 (FPKM)</text>
<path d="M63.45 457.9 L74.15 457.9 C73.97 458.42 73.53 459.83 73.05 461 C72.57 462.17 70.97 463.57 71.25 464.9 C71.53 466.23 73.65 467.73 74.75 469 C75.85 470.27 77.28 471.47 77.85 472.5 C78.42 473.53 78.1 474.75 78.15 475.2 L59.45 475.2 C59.5 474.75 59.18 473.53 59.75 472.5 C60.32 471.47 61.75 470.27 62.85 469 C63.95 467.73 66.07 466.23 66.35 464.9 C66.63 463.57 65.03 462.17 64.55 461 C64.07 459.83 63.63 458.42 63.45 457.9 Z" fill="none" stroke="#2b275f" stroke-width="1.4" stroke-linejoin="round"/>
<line x1="62.41" y1="470.4" x2="75.19" y2="470.4" stroke="#a47ad8" stroke-width="1.25" stroke-dasharray="3 2.2"/>
<path d="M94.65 510 L103.95 510 C103.85 510.83 103.72 513 103.35 515 C102.98 517 102.15 519.63 101.75 522 C101.35 524.37 100.37 527.03 100.95 529.2 C101.53 531.37 104.02 533.28 105.25 535 C106.48 536.72 107.78 538.27 108.35 539.5 C108.92 540.73 108.6 541.92 108.65 542.4 L89.95 542.4 C90 541.92 89.68 540.73 90.25 539.5 C90.82 538.27 92.12 536.72 93.35 535 C94.58 533.28 97.07 531.37 97.65 529.2 C98.23 527.03 97.25 524.37 96.85 522 C96.45 519.63 95.62 517 95.25 515 C94.88 513 94.75 510.83 94.65 510 Z" fill="none" stroke="#3d58c0" stroke-width="1.4" stroke-linejoin="round"/>
<line x1="91.26" y1="539.2" x2="107.34" y2="539.2" stroke="#6ccbf2" stroke-width="1.25" stroke-dasharray="3 2.2"/>
<text x="99.5" y="508.6" font-size="9.5" font-weight="bold" text-anchor="middle" fill="#222">*</text>
<path d="M121.55 469.5 L138.85 469.5 C138.88 470.08 138.98 471.58 139.05 473 C139.12 474.42 139.38 476 139.25 478 C139.12 480 138.82 482.5 138.25 485 C137.68 487.5 136.58 490.5 135.85 493 C135.12 495.5 134.38 497.67 133.85 500 C133.32 502.33 132.82 504.83 132.65 507 C132.48 509.17 132.48 510.83 132.85 513 C133.22 515.17 134.3 517.83 134.85 520 C135.4 522.17 135.9 524.25 136.15 526 C136.4 527.75 136.32 529.75 136.35 530.5 L124.05 530.5 C124.08 529.75 124 527.75 124.25 526 C124.5 524.25 125 522.17 125.55 520 C126.1 517.83 127.18 515.17 127.55 513 C127.92 510.83 127.92 509.17 127.75 507 C127.58 504.83 127.08 502.33 126.55 500 C126.02 497.67 125.28 495.5 124.55 493 C123.82 490.5 122.72 487.5 122.15 485 C121.58 482.5 121.28 480 121.15 478 C121.02 476 121.28 474.42 121.35 473 C121.42 471.58 121.52 470.08 121.55 469.5 Z" fill="none" stroke="#e8432c" stroke-width="1.4" stroke-linejoin="round"/>
<line x1="123.97" y1="488.4" x2="136.43" y2="488.4" stroke="#f4a48e" stroke-width="1.25" stroke-dasharray="3 2.2"/>
<rect x="195.2" y="452.9" width="103.4" height="102.8" fill="none" stroke="#111" stroke-width="1.5"/>
<circle cx="298.75" cy="452.9" r="1.27" fill="#111"/>
<circle cx="298.75" cy="555.7" r="1.27" fill="#111"/>
<line x1="189.7" y1="452.9" x2="195.2" y2="452.9" stroke="#111" stroke-width="1.5"/>
<text x="186.6" y="456.15" font-size="9" font-weight="bold" text-anchor="end" fill="#111">64</text>
<line x1="189.7" y1="478.8" x2="195.2" y2="478.8" stroke="#111" stroke-width="1.5"/>
<text x="186.6" y="482.05" font-size="9" font-weight="bold" text-anchor="end" fill="#111">32</text>
<line x1="189.7" y1="504.2" x2="195.2" y2="504.2" stroke="#111" stroke-width="1.5"/>
<text x="186.6" y="507.45" font-size="9" font-weight="bold" text-anchor="end" fill="#111">16</text>
<line x1="189.7" y1="530" x2="195.2" y2="530" stroke="#111" stroke-width="1.5"/>
<text x="186.6" y="533.25" font-size="9" font-weight="bold" text-anchor="end" fill="#111">8</text>
<line x1="189.7" y1="555.7" x2="195.2" y2="555.7" stroke="#111" stroke-width="1.5"/>
<text x="186.6" y="558.95" font-size="9" font-weight="bold" text-anchor="end" fill="#111">4</text>
<line x1="246.7" y1="555.7" x2="246.7" y2="560.2" stroke="#111" stroke-width="1.5"/>
<text x="249" y="569.1" font-size="9.2" font-weight="bold" text-anchor="middle" fill="#111">MMP9</text>
<text x="169.9" y="502.3" font-size="9.5" font-weight="bold" text-anchor="middle" fill="#111" transform="rotate(-90 169.9 502.3)">Log2 (FPKM)</text>
<path d="M206.95 461.6 L225.45 461.6 C225.4 462 225.88 462.77 225.15 464 C224.42 465.23 222.08 467.32 221.05 469 C220.02 470.68 218.98 472.68 218.95 474.1 C218.92 475.52 220.37 476.58 220.85 477.5 C221.33 478.42 221.68 479.25 221.85 479.6 L210.55 479.6 C210.72 479.25 211.07 478.42 211.55 477.5 C212.03 476.58 213.48 475.52 213.45 474.1 C213.42 472.68 212.38 470.68 211.35 469 C210.32 467.32 207.98 465.23 207.25 464 C206.52 462.77 207 462 206.95 461.6 Z" fill="none" stroke="#2b275f" stroke-width="1.4" stroke-linejoin="round"/>
<line x1="209.44" y1="465.7" x2="222.96" y2="465.7" stroke="#a47ad8" stroke-width="1.25" stroke-dasharray="3 2.2"/>
<path d="M237.95 501.1 L255.45 501.1 C255.4 501.75 255.28 503.52 255.15 505 C255.02 506.48 254.63 508.33 254.65 510 C254.67 511.67 255.07 513.23 255.25 515 C255.43 516.77 255.77 518.85 255.75 520.6 C255.73 522.35 255.33 523.82 255.15 525.5 C254.97 527.18 254.65 529.03 254.65 530.7 C254.65 532.37 255.02 533.87 255.15 535.5 C255.28 537.13 255.4 539.67 255.45 540.5 L237.95 540.5 C238 539.67 238.12 537.13 238.25 535.5 C238.38 533.87 238.75 532.37 238.75 530.7 C238.75 529.03 238.43 527.18 238.25 525.5 C238.07 523.82 237.67 522.35 237.65 520.6 C237.63 518.85 237.97 516.77 238.15 515 C238.33 513.23 238.73 511.67 238.75 510 C238.77 508.33 238.38 506.48 238.25 505 C238.12 503.52 238 501.75 237.95 501.1 Z" fill="none" stroke="#3d58c0" stroke-width="1.4" stroke-linejoin="round"/>
<line x1="238.45" y1="520.6" x2="254.95" y2="520.6" stroke="#6ccbf2" stroke-width="1.25" stroke-dasharray="3 2.2"/>
<text x="246.7" y="500" font-size="9.5" font-weight="bold" text-anchor="middle" fill="#222">*</text>
<path d="M268.8 509.2 L286.6 509.2 C286.57 509.58 286.64 510.58 286.45 511.5 C286.26 512.42 285.45 513.7 285.45 514.7 C285.45 515.7 286.28 517.03 286.45 517.5 L268.95 517.5 C269.12 517.03 269.95 515.7 269.95 514.7 C269.95 513.7 269.14 512.42 268.95 511.5 C268.76 510.58 268.82 509.58 268.8 509.2 Z" fill="none" stroke="#e8432c" stroke-width="1.4" stroke-linejoin="round"/>
<line x1="270.16" y1="512.8" x2="285.24" y2="512.8" stroke="#f4a48e" stroke-width="1.25" stroke-dasharray="3 2.2"/>
<rect x="342.2" y="452.9" width="103" height="102.8" fill="none" stroke="#111" stroke-width="1.5"/>
<circle cx="445.35" cy="452.9" r="1.27" fill="#111"/>
<circle cx="445.35" cy="555.7" r="1.27" fill="#111"/>
<line x1="336.7" y1="452.9" x2="342.2" y2="452.9" stroke="#111" stroke-width="1.5"/>
<text x="333.6" y="456.15" font-size="9" font-weight="bold" text-anchor="end" fill="#111">4</text>
<line x1="336.7" y1="487.1" x2="342.2" y2="487.1" stroke="#111" stroke-width="1.5"/>
<text x="333.6" y="490.35" font-size="9" font-weight="bold" text-anchor="end" fill="#111">2</text>
<line x1="336.7" y1="521.5" x2="342.2" y2="521.5" stroke="#111" stroke-width="1.5"/>
<text x="333.6" y="524.75" font-size="9" font-weight="bold" text-anchor="end" fill="#111">1</text>
<line x1="336.7" y1="555.7" x2="342.2" y2="555.7" stroke="#111" stroke-width="1.5"/>
<text x="333.6" y="558.95" font-size="9" font-weight="bold" text-anchor="end" fill="#111">0.5</text>
<line x1="393.6" y1="555.7" x2="393.6" y2="560.2" stroke="#111" stroke-width="1.5"/>
<text x="396.2" y="568.9" font-size="9.2" font-weight="bold" text-anchor="middle" fill="#111">MMP10</text>
<text x="322.4" y="501.6" font-size="9.5" font-weight="bold" text-anchor="middle" fill="#111" transform="rotate(-90 322.4 501.6)">Log2 (FPKM)</text>
<path d="M358.25 469.2 L367.75 469.2 C367.63 469.67 367.53 470.73 367.05 472 C366.57 473.27 364.53 475.3 364.85 476.8 C365.17 478.3 367.78 479.8 368.95 481 C370.12 482.2 371.3 483.22 371.85 484 C372.4 484.78 372.18 485.42 372.25 485.7 L353.75 485.7 C353.82 485.42 353.6 484.78 354.15 484 C354.7 483.22 355.88 482.2 357.05 481 C358.22 479.8 360.83 478.3 361.15 476.8 C361.47 475.3 359.43 473.27 358.95 472 C358.47 470.73 358.37 469.67 358.25 469.2 Z" fill="none" stroke="#2b275f" stroke-width="1.4" stroke-linejoin="round"/>
<line x1="356.5" y1="482.4" x2="369.5" y2="482.4" stroke="#a47ad8" stroke-width="1.25" stroke-dasharray="3 2.2"/>
<path d="M384.35 497.5 L403.25 497.5 C403.22 497.92 403.3 498.92 403.05 500 C402.8 501.08 402.38 502.5 401.75 504 C401.12 505.5 400.03 507.33 399.25 509 C398.47 510.67 397.65 512.33 397.05 514 C396.45 515.67 395.97 517.33 395.65 519 C395.33 520.67 395.08 522.33 395.15 524 C395.22 525.67 395.65 527.33 396.05 529 C396.45 530.67 397.2 532.6 397.55 534 C397.9 535.4 398.05 536.83 398.15 537.4 L389.45 537.4 C389.55 536.83 389.7 535.4 390.05 534 C390.4 532.6 391.15 530.67 391.55 529 C391.95 527.33 392.38 525.67 392.45 524 C392.52 522.33 392.27 520.67 391.95 519 C391.63 517.33 391.15 515.67 390.55 514 C389.95 512.33 389.13 510.67 388.35 509 C387.57 507.33 386.48 505.5 385.85 504 C385.22 502.5 384.8 501.08 384.55 500 C384.3 498.92 384.38 497.92 384.35 497.5 Z" fill="none" stroke="#3d58c0" stroke-width="1.4" stroke-linejoin="round"/>
<line x1="385.33" y1="499.8" x2="402.27" y2="499.8" stroke="#6ccbf2" stroke-width="1.25" stroke-dasharray="3 2.2"/>
<text x="393.7" y="497.4" font-size="9.5" font-weight="bold" text-anchor="middle" fill="#222">*</text>
<path d="M415.3 492.8 L433.9 492.8 C433.88 493.33 434.01 494.47 433.75 496 C433.49 497.53 432.88 500 432.35 502 C431.82 504 431.18 505.83 430.55 508 C429.92 510.17 429.17 512.67 428.55 515 C427.93 517.33 427.27 519.83 426.85 522 C426.43 524.17 426.08 526 426.05 528 C426.02 530 426.32 532 426.65 534 C426.98 536 427.62 537.92 428.05 540 C428.48 542.08 429.05 545.42 429.25 546.5 L419.95 546.5 C420.15 545.42 420.72 542.08 421.15 540 C421.58 537.92 422.22 536 422.55 534 C422.88 532 423.18 530 423.15 528 C423.12 526 422.77 524.17 422.35 522 C421.93 519.83 421.27 517.33 420.65 515 C420.03 512.67 419.28 510.17 418.65 508 C418.02 505.83 417.38 504 416.85 502 C416.32 500 415.71 497.53 415.45 496 C415.19 494.47 415.33 493.33 415.3 492.8 Z" fill="none" stroke="#e8432c" stroke-width="1.4" stroke-linejoin="round"/>
<rect x="490.3" y="453.9" width="103.6" height="103.8" fill="none" stroke="#111" stroke-width="1.5"/>
<circle cx="594.05" cy="453.9" r="1.27" fill="#111"/>
<circle cx="594.05" cy="557.7" r="1.27" fill="#111"/>
<line x1="484.8" y1="453.9" x2="490.3" y2="453.9" stroke="#111" stroke-width="1.5"/>
<text x="481.7" y="457.15" font-size="9" font-weight="bold" text-anchor="end" fill="#111">16</text>
<line x1="484.8" y1="480.4" x2="490.3" y2="480.4" stroke="#111" stroke-width="1.5"/>
<text x="481.7" y="483.65" font-size="9" font-weight="bold" text-anchor="end" fill="#111">8</text>
<line x1="484.8" y1="506" x2="490.3" y2="506" stroke="#111" stroke-width="1.5"/>
<text x="481.7" y="509.25" font-size="9" font-weight="bold" text-anchor="end" fill="#111">4</text>
<line x1="484.8" y1="531.8" x2="490.3" y2="531.8" stroke="#111" stroke-width="1.5"/>
<text x="481.7" y="535.05" font-size="9" font-weight="bold" text-anchor="end" fill="#111">2</text>
<line x1="484.8" y1="557.7" x2="490.3" y2="557.7" stroke="#111" stroke-width="1.5"/>
<text x="481.7" y="560.95" font-size="9" font-weight="bold" text-anchor="end" fill="#111">1</text>
<line x1="541.8" y1="557.7" x2="541.8" y2="562.2" stroke="#111" stroke-width="1.5"/>
<text x="544.3" y="570.1" font-size="9.2" font-weight="bold" text-anchor="middle" fill="#111">MMP11</text>
<text x="470.3" y="505" font-size="9.5" font-weight="bold" text-anchor="middle" fill="#111" transform="rotate(-90 470.3 505)">Log2 (FPKM)</text>
<path d="M506.45 476.8 L515.95 476.8 C515.82 477.25 515.63 478.35 515.15 479.5 C514.67 480.65 512.58 482.37 513.05 483.7 C513.52 485.03 516.72 486.28 517.95 487.5 C519.18 488.72 520.03 490.42 520.45 491 L501.95 491 C502.37 490.42 503.22 488.72 504.45 487.5 C505.68 486.28 508.88 485.03 509.35 483.7 C509.82 482.37 507.73 480.65 507.25 479.5 C506.77 478.35 506.58 477.25 506.45 476.8 Z" fill="none" stroke="#2b275f" stroke-width="1.4" stroke-linejoin="round"/>
<line x1="503.75" y1="489.6" x2="518.65" y2="489.6" stroke="#a47ad8" stroke-width="1.25" stroke-dasharray="3 2.2"/>
<path d="M532.65 531.5 L551.15 531.5 C551.02 531.78 551.15 532.28 550.35 533.2 C549.55 534.12 547.45 535.83 546.35 537 C545.25 538.17 543.82 539.27 543.75 540.2 C543.68 541.13 545.43 541.87 545.95 542.6 C546.47 543.33 546.7 544.27 546.85 544.6 L536.95 544.6 C537.1 544.27 537.33 543.33 537.85 542.6 C538.37 541.87 540.12 541.13 540.05 540.2 C539.98 539.27 538.55 538.17 537.45 537 C536.35 535.83 534.25 534.12 533.45 533.2 C532.65 532.28 532.78 531.78 532.65 531.5 Z" fill="none" stroke="#3d58c0" stroke-width="1.4" stroke-linejoin="round"/>
<text x="541.3" y="531" font-size="9.5" font-weight="bold" text-anchor="middle" fill="#222">*</text>
<path d="M563.95 479.7 L581.25 479.7 C581.17 480.42 580.97 482.32 580.75 484 C580.53 485.68 579.97 487.88 579.95 489.8 C579.93 491.72 580.4 493.63 580.65 495.5 C580.9 497.37 581.43 499.25 581.45 501 C581.47 502.75 580.98 504.4 580.75 506 C580.52 507.6 580.05 508.85 580.05 510.6 C580.05 512.35 580.55 514.52 580.75 516.5 C580.95 518.48 581.17 521.5 581.25 522.5 L563.95 522.5 C564.03 521.5 564.25 518.48 564.45 516.5 C564.65 514.52 565.15 512.35 565.15 510.6 C565.15 508.85 564.68 507.6 564.45 506 C564.22 504.4 563.73 502.75 563.75 501 C563.77 499.25 564.3 497.37 564.55 495.5 C564.8 493.63 565.27 491.72 565.25 489.8 C565.23 487.88 564.67 485.68 564.45 484 C564.23 482.32 564.03 480.42 563.95 479.7 Z" fill="none" stroke="#e8432c" stroke-width="1.4" stroke-linejoin="round"/>
<line x1="564.61" y1="501.4" x2="580.59" y2="501.4" stroke="#f4a48e" stroke-width="1.25" stroke-dasharray="3 2.2"/>
<rect x="306.25" y="591.85" width="9.5" height="3.8" fill="none" stroke="#2b275f" stroke-width="1.9"/>
<text x="322.6" y="596.6" font-size="9.2" font-weight="bold" text-anchor="start" fill="#111">PBS</text>
<rect x="362.75" y="591.85" width="9.5" height="3.8" fill="none" stroke="#3d58c0" stroke-width="1.9"/>
<text x="379.1" y="596.6" font-size="9.2" font-weight="bold" text-anchor="start" fill="#111" textLength="115.4" lengthAdjust="spacingAndGlyphs">PEG/Se@OMV-CD47 + RA</text>
<rect x="508.05" y="591.85" width="9.5" height="3.8" fill="none" stroke="#e8432c" stroke-width="1.9"/>
<text x="524.4" y="596.6" font-size="9.2" font-weight="bold" text-anchor="start" fill="#111">Anti-CD47</text>
</svg>
</body></html>
